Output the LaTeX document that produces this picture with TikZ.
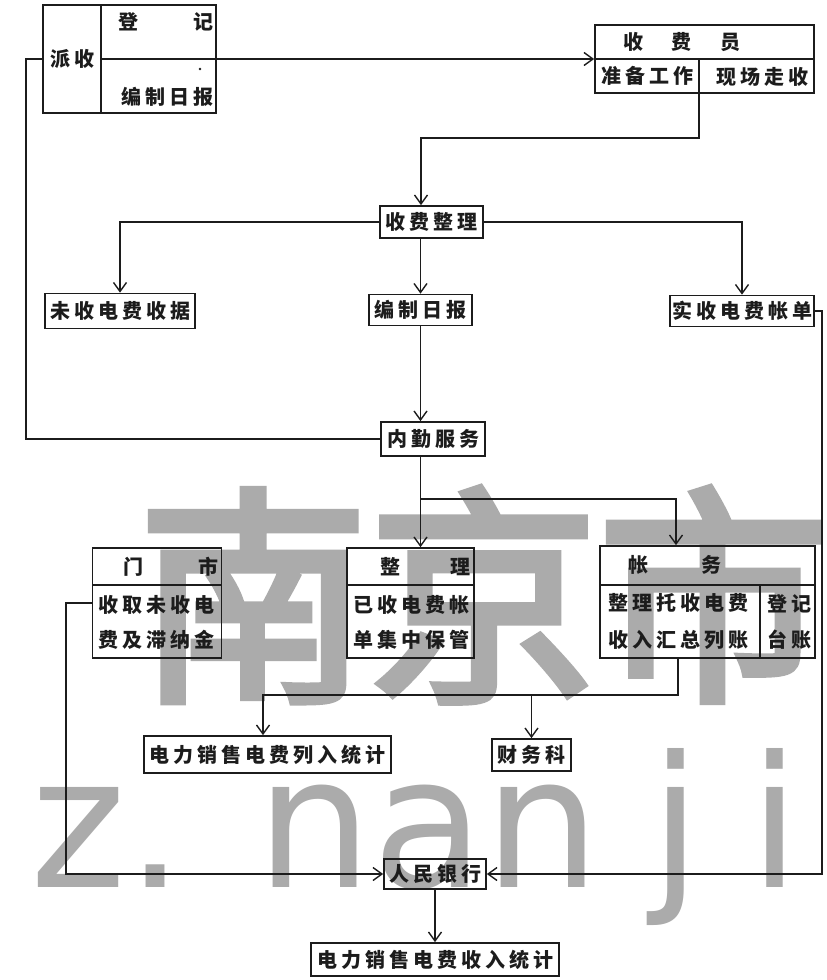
\documentclass[tikz,border=0pt]{standalone}
\usepackage{fontspec}
\usetikzlibrary{arrows.meta}
\newfontfamily\cjk{Noto Sans CJK SC}[LetterSpace=20]
\newfontfamily\cjkwm{Noto Sans CJK SC}[FakeBold=3.5]
\newfontfamily\wmlat{DejaVu Sans}
\definecolor{ink}{HTML}{1C1C1C}
\definecolor{wmgray}{HTML}{ABABAB}
\begin{document}
\begin{tikzpicture}[x=1pt,y=-1pt,
  ln/.style={draw=ink,line width=1.7pt},
  arr/.style={ln,-{Straight Barb[length=9pt,width=13pt,line width=1.4pt]}},
  bx/.style={draw=ink,line width=1.7pt,inner sep=0pt,text=ink,font=\cjk\bfseries\fontsize{20}{24}\selectfont},
  tx/.style={inner sep=0pt,text=ink,font=\cjk\bfseries\fontsize{20}{24}\selectfont},
  wm/.style={inner sep=0pt,text=wmgray}]
\useasboundingbox (0,0) rectangle (827,980);
\fill[white] (0,0) rectangle (827,980);
% watermark
\begin{scope}
\clip (0,0) rectangle (827,980);
\node[wm,anchor=west,font=\cjkwm\fontsize{230}{230}\selectfont] (wmcn) at (138,595) {南京市};
\node[wm,anchor=base west,font=\wmlat\fontsize{183}{183}\selectfont] (wmen) at (30,887) {z.\kern72pt nan\kern50pt j\kern48pt i};
\end{scope}

% top-left register box
\node[bx,minimum width=173pt,minimum height=108pt] (dj) at (129.5,59) {};
\coordinate (djv1) at (101,5);
\coordinate (djv2) at (101,113);
\draw[ln] (djv1) -- (djv2);
\coordinate (djc) at (101,59);
\node[tx] (tdeng) at (128,22) {登};
\node[tx] (tji) at (203,22) {记};
\node[tx] (tpai) at (72,59) {派收};
\node[tx] (tbz1) at (167,97) {编制日报};
\fill[ink] (200,69) circle (1.3pt);

% collector box
\node[bx,minimum width=219pt,minimum height=68pt] (sfy) at (704.5,59) {};
\draw[ln] (sfy.west) -- (sfy.east);
\coordinate (sfyd) at (699,59);
\coordinate (sfyb) at (699,93);
\draw[ln] (sfyd) -- (sfyb);
\node[tx] (tshou) at (633,42) {收};
\node[tx] (tfei) at (681,42) {费};
\node[tx] (tyuan) at (730,42) {员};
\node[tx] (tzb) at (647,76) {准备工作};
\node[tx] (txc) at (762,77) {现场走收};

% middle column
\node[bx,minimum width=103pt,minimum height=32pt] (sfzl) at (431.5,222) {收费整理};
\node[bx,minimum width=150pt,minimum height=35pt] (wsj) at (120,311) {未收电费收据};
\node[bx,minimum width=103pt,minimum height=31pt] (bzrb) at (420.5,310) {编制日报};
\node[bx,minimum width=144pt,minimum height=31pt] (ssz) at (742,311) {实收电费帐单};
\node[bx,minimum width=104pt,minimum height=34pt] (nq) at (433,439) {内勤服务};

% three lower boxes
\node[bx,minimum width=129pt,minimum height=110pt] (mc) at (157,603) {};
\draw[ln] (92.5,585) -- (221.5,585);
\node[tx] (tmen) at (133,567) {门};
\node[tx] (tshi) at (208,567) {市};
\node[tx] (tmc1) at (156,605) {收取未收电};
\node[tx] (tmc2) at (156,640) {费及滞纳金};

\node[bx,minimum width=127pt,minimum height=110pt] (zl) at (410.5,603) {};
\draw[ln] (347,585) -- (474,585);
\node[tx] (tzheng) at (390,567) {整};
\node[tx] (tli) at (460,567) {理};
\node[tx] (tzl1) at (411,605) {已收电费帐};
\node[tx] (tzl2) at (411,640) {单集中保管};

\node[bx,minimum width=215pt,minimum height=112pt] (zw) at (707.5,602) {};
\draw[ln] (600,585) -- (815,585);
\draw[ln] (760,585) -- (760,658);
\node[tx] (tzhang) at (638,565) {帐};
\node[tx] (twu) at (711,565) {务};
\node[tx] (tzw1) at (678,603) {整理托收电费};
\node[tx] (tzw2) at (678,640) {收入汇总列账};
\node[tx] (tzw3) at (789,604) {登记};
\node[tx] (tzw4) at (789,640) {台账};

% bottom
\node[bx,minimum width=247pt,minimum height=37pt] (dlt1) at (267.5,754.5) {电力销售电费列入统计};
\node[bx,minimum width=79pt,minimum height=32pt] (cwk) at (531.5,755) {财务科};
\node[bx,minimum width=102pt,minimum height=30pt] (rmyh) at (435,874) {人民银行};
\node[bx,minimum width=248pt,minimum height=33pt] (dlt2) at (435,959.5) {电力销售电费收入统计};

% connectors
\draw[arr] (djc) -- (sfy.west);
\coordinate (lt) at (26,59);
\coordinate (lb) at (26,439);
\draw[ln] (dj.west) -- (lt) -- (lb) -- (nq.west);
\coordinate (tk1) at (699,138);
\coordinate (tk2) at (421,138);
\draw[arr] (sfyb) -- (tk1) -- (tk2) -- (tk2 |- sfzl.north);
\draw[arr] (sfzl.west) -| (wsj.north);
\draw[arr] (sfzl.east) -| (ssz.north);
\draw[arr] (sfzl.south -| bzrb.north) -- (bzrb.north);
\draw[arr] (bzrb.south) -- (bzrb.south |- nq.north);
\draw[arr] (bzrb.south |- nq.south) -- (bzrb.south |- zl.north);
\coordinate (br) at (420.5,499);
\coordinate (brr) at (676,499);
\draw[arr] (br) -- (brr) -- (brr |- zw.north);
\coordinate (h1) at (678,695);
\coordinate (h2) at (263,695);
\draw[arr] (zw.south -| h1) -- (h1) -- (h2) -- (h2 |- dlt1.north);
\draw[arr] (cwk.north |- h1) -- (cwk.north);
\coordinate (mlt) at (66,603);
\coordinate (mlb) at (66,874);
\draw[arr] (mc.west) -- (mlt) -- (mlb) -- (rmyh.west);
\coordinate (rt) at (822,311);
\coordinate (rb) at (822,874);
\draw[arr] (ssz.east) -- (rt) -- (rb) -- (rmyh.east);
\draw[arr] (rmyh.south) -- (dlt2.north);
\end{tikzpicture}
\end{document}
